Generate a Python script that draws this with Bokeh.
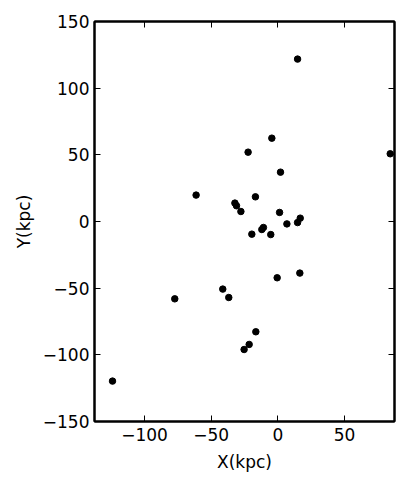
from bokeh.plotting import figure
from bokeh.models import Range1d, FixedTicker, LinearAxis, CustomJSTickFormatter
from bokeh.embed import file_html
from bokeh.resources import INLINE

# data (kpc)
x_kpc = [14.8, -4.5, -22.3, 84.3, 2.0, -61.3, -16.8, -32.2, -31.0, -27.7,
         1.3, 16.8, 14.8, 6.8, -10.8, -12.0, -19.5, -5.3, -0.5, 16.5,
         -41.3, -36.8, -77.3, -16.5, -21.5, -25.3, -124.0]
y_kpc = [121.8, 62.5, 52.0, 50.8, 37.0, 19.8, 18.5, 13.8, 11.8, 7.5,
         6.8, 2.5, -0.8, -1.8, -4.5, -6.0, -9.5, -9.8, -42.2, -38.7,
         -50.7, -57.0, -58.0, -82.7, -92.2, -96.0, -119.7]

x_ticks = [-100, -50, 0, 50]
y_ticks = [-150, -100, -50, 0, 50, 100, 150]

def lab(v):
    return ("\u2212" + str(-v)) if v < 0 else str(v)

FONT = "DejaVu Sans"
FS = "17px"

p = figure(frame_width=300, frame_height=400,
           x_range=Range1d(-137.5, 87.5), y_range=Range1d(-150, 150),
           output_backend="svg", toolbar_location=None,
           min_border_left=94, min_border_right=4, min_border_top=21, min_border_bottom=57,
           background_fill_color="white", border_fill_color="white")
p.grid.visible = False
p.outline_line_color = "black"
p.outline_line_width = 2

p.scatter(x_kpc, y_kpc, size=6.5, color="black")

def style(ax, ticks, labels=True):
    ax.ticker = FixedTicker(ticks=ticks)
    ax.minor_tick_line_color = None
    ax.major_tick_in = 6
    ax.major_tick_out = 0
    ax.major_tick_line_color = "black"
    ax.major_tick_line_width = 1
    ax.axis_line_color = "black"
    ax.axis_line_width = 2
    ax.major_label_text_font = FONT
    ax.major_label_text_font_size = FS
    ax.major_label_text_color = "black"
    ax.axis_label_text_font = FONT
    ax.axis_label_text_font_size = FS
    ax.axis_label_text_font_style = "normal"
    ax.axis_label_text_color = "black"
    if labels:
        ax.major_label_overrides = {t: lab(t) for t in ticks}
    else:
        ax.formatter = CustomJSTickFormatter(code="return ''")
        ax.major_label_standoff = 0

style(p.xaxis[0], x_ticks)
style(p.yaxis[0], y_ticks)
p.xaxis[0].axis_label = "X(kpc)"
p.yaxis[0].axis_label = "Y(kpc)"
p.xaxis[0].major_label_standoff = 6
p.yaxis[0].major_label_standoff = 5
p.xaxis[0].axis_label_standoff = 8
p.yaxis[0].axis_label_standoff = 6

top = LinearAxis()
right = LinearAxis()
style(top, x_ticks, labels=False)
style(right, y_ticks, labels=False)
p.add_layout(top, "above")
p.add_layout(right, "right")

open("out.html", "w").write(file_html(p, INLINE))
